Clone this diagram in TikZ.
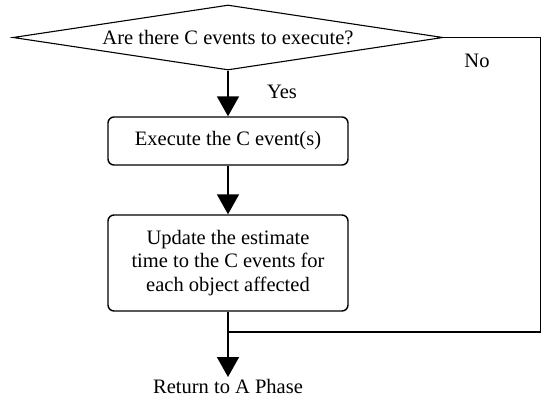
\documentclass[tikz,border=0pt]{standalone}
\usepackage{fontspec}
\setmainfont{Liberation Serif}
\usetikzlibrary{shapes.geometric,arrows.meta}
\begin{document}
\begin{tikzpicture}[x=1pt,y=-1pt,
  every node/.style={font=\fontsize{20.5}{23.5}\selectfont},
  decision/.style={draw,shape=diamond,aspect=6.6,minimum width=430pt,minimum height=65pt,inner sep=0pt,line width=1.1pt},
  procbox/.style={draw,rounded corners=6pt,minimum width=240pt,inner sep=2pt,align=center,line width=1.4pt},
  flow/.style={line width=1.8pt,-{Triangle[length=20pt,width=22pt]}},
  plainline/.style={line width=1.6pt}]
\useasboundingbox (0,0) rectangle (542,399);
\node[decision] (d) at (228,37.5) {Are there C events to execute?};
\node[procbox,minimum height=48pt] (b1) at (228,141) {Execute the C event(s)};
\node[procbox,minimum height=96pt] (b2) at (228,263) {Update the estimate\\time to the C events for\\each object affected};
\node[anchor=north,inner sep=2pt] (ret) at (228,377) {Return to A Phase};
\node (yes) at (282,92) {Yes};
\node (no) at (477,61) {No};
\coordinate (rx) at (540.5,0);
\coordinate (j) at (228,332);
\draw[flow] (d.south) -- (b1.north);
\draw[flow] (b1.south) -- (b2.north);
\draw[flow] (b2.south) -- (ret.north);
\draw[plainline] (d.east) -- (d.east -| rx) |- (j);
\end{tikzpicture}
\end{document}
